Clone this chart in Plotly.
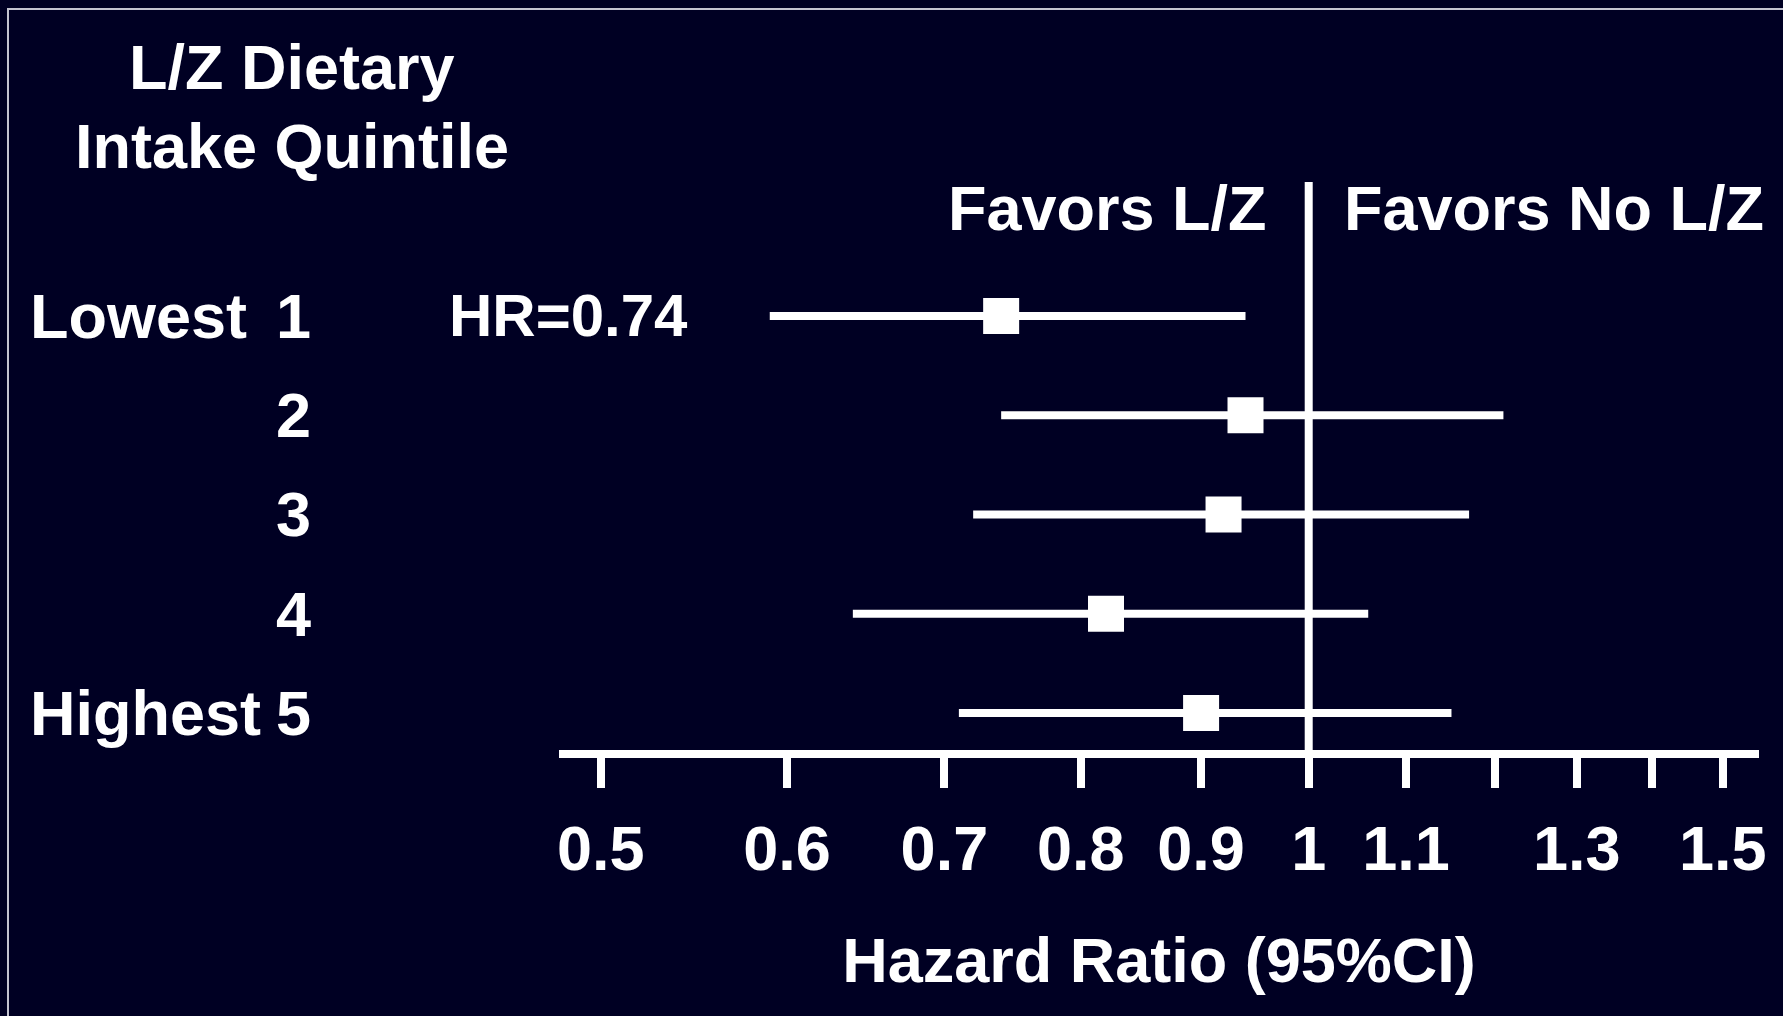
import math
import plotly.graph_objects as go

# ---------------- data ----------------
quintiles = [1, 2, 3, 4, 5]
quintile_labels = ["1", "2", "3", "4", "5"]
hr = [0.74, 0.94, 0.92, 0.82, 0.90]
ci_low = [0.59, 0.74, 0.72, 0.64, 0.71]
ci_high = [0.94, 1.21, 1.17, 1.06, 1.15]
tick_vals = [0.5, 0.6, 0.7, 0.8, 0.9, 1.0, 1.1, 1.2, 1.3, 1.4, 1.5]
tick_text = ["0.5", "0.6", "0.7", "0.8", "0.9", "1", "1.1", "", "1.3", "", "1.5"]
hr_label = "HR=0.74"
null_value = 1.0

# ---------------- layout constants ----------------
W, H = 1783, 1016
ML, MR, MT, MB = 559, 24, 182, 266
PW, PH = W - ML - MR, H - MT - MB
BG = "#000023"
FONT = "Liberation Sans, Arial, sans-serif"
FS = 63


def px_x(p):
    return (p - ML) / PW


def px_y(p):
    return (H - MB - p) / PH


fig = go.Figure()

fig.add_trace(go.Scatter(
    x=hr, y=quintiles, mode="markers",
    marker=dict(symbol="square", size=36, color="white", line=dict(width=0)),
    error_x=dict(type="data", symmetric=False,
                 array=[h2 - m for h2, m in zip(ci_high, hr)],
                 arrayminus=[m - l for m, l in zip(hr, ci_low)],
                 thickness=8, width=0, color="white"),
    showlegend=False, hoverinfo="skip",
))

# reference line at HR = 1
fig.add_shape(type="line", xref="x", yref="paper", x0=null_value, x1=null_value, y0=0, y1=1,
              line=dict(color="white", width=8), layer="below")

# frame border (top and left)
fig.add_shape(type="rect", xref="paper", yref="paper",
              x0=px_x(8), x1=px_x(1830), y0=px_y(9), y1=px_y(1060),
              line=dict(color="#c4c4d0", width=2), layer="below")

ann_font = dict(family=FONT, size=FS, color="white", weight="bold")

annotations = [
    dict(text="L/Z Dietary", x=px_x(292), y=px_y(67), xanchor="center", yanchor="middle"),
    dict(text="Intake Quintile", x=px_x(292), y=px_y(146), xanchor="center", yanchor="middle"),
    dict(text="Favors L/Z", x=math.log10(null_value), y=px_y(208), xref="x",
         xanchor="right", xshift=-40, yanchor="middle"),
    dict(text="Favors No L/Z", x=math.log10(null_value), y=px_y(208), xref="x",
         xanchor="left", xshift=33, yanchor="middle"),
]
for a in annotations:
    a.setdefault("xref", "paper")
    a.setdefault("yref", "paper")
    a.update(showarrow=False, font=ann_font)
    fig.add_annotation(**a)

# row labels
for q, lab in zip(quintiles, quintile_labels):
    fig.add_annotation(text=lab, x=px_x(313), y=q, xref="paper", yref="y",
                       xanchor="right", yanchor="middle", showarrow=False, font=ann_font)
fig.add_annotation(text="Lowest", x=px_x(28), y=quintiles[0], xref="paper", yref="y",
                   xanchor="left", yanchor="middle", showarrow=False, font=ann_font)
fig.add_annotation(text="Highest", x=px_x(28), y=quintiles[-1], xref="paper", yref="y",
                   xanchor="left", yanchor="middle", showarrow=False, font=ann_font)

# HR label (annotation x on a log axis is given in log10 units)
fig.add_annotation(text=hr_label, x=math.log10(ci_low[0]), y=quintiles[0], xref="x", yref="y",
                   xanchor="right", yanchor="middle", xshift=-80, showarrow=False,
                   font=dict(family=FONT, size=60, color="white", weight="bold"))

fig.update_layout(
    width=W, height=H,
    margin=dict(l=ML, r=MR, t=MT, b=MB, pad=0),
    paper_bgcolor=BG, plot_bgcolor=BG,
    font=dict(family=FONT, size=FS, color="white", weight="bold"),
    xaxis=dict(
        type="log", range=[math.log10(0.48), math.log10(1.554)],
        showgrid=False, zeroline=False,
        showline=True, linecolor="white", linewidth=8,
        ticks="outside", ticklen=30, tickwidth=8, tickcolor="white",
        tickmode="array", tickvals=tick_vals, ticktext=tick_text,
        ticklabelstandoff=6,
        tickfont=dict(family=FONT, size=FS, color="white", weight="bold"),
        title=dict(text="Hazard Ratio (95%CI)", standoff=59,
                   font=dict(family=FONT, size=FS, color="white", weight="bold")),
        fixedrange=True,
    ),
    yaxis=dict(range=[5.373, -0.350], visible=False, fixedrange=True),
)

fig.write_html("out.html", config={"displayModeBar": False})
